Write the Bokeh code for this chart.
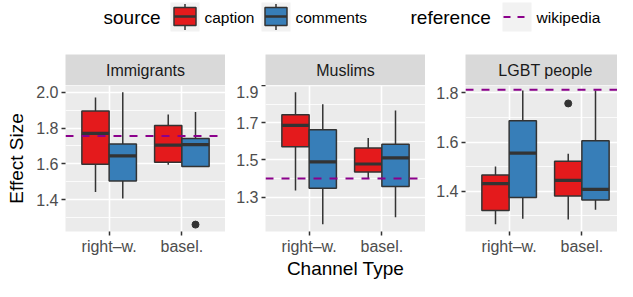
import pandas as pd
from bokeh.plotting import figure
from bokeh.layouts import column, row
from bokeh.models import Range1d, FixedTicker, PrintfTickFormatter, ColumnDataSource, Span
from bokeh.core.properties import value
from bokeh.embed import file_html
from bokeh.resources import INLINE

# ---------------- data ----------------
panels = ["Immigrants", "Muslims", "LGBT people"]
channels = ["right\u2013w.", "basel."]
sources = ["caption", "comments"]
source_colors = ["#E41A1C", "#377EB8"]

# order per panel: (right-w., caption), (right-w., comments), (basel., caption), (basel., comments)
box_panel = ["Immigrants"] * 4 + ["Muslims"] * 4 + ["LGBT people"] * 4
box_channel = ["right\u2013w.", "right\u2013w.", "basel.", "basel."] * 3
box_source = ["caption", "comments"] * 6
whisker_low = [1.443, 1.407, 1.595, 1.586,
               1.335, 1.153, 1.400, 1.191,
               1.266, 1.288, 1.285, 1.324]
q1 = [1.598, 1.505, 1.609, 1.586,
      1.571, 1.347, 1.435, 1.357,
      1.321, 1.374, 1.380, 1.364]
median = [1.770, 1.645, 1.705, 1.707,
          1.687, 1.490, 1.478, 1.511,
          1.431, 1.555, 1.444, 1.407]
q3 = [1.895, 1.711, 1.814, 1.741,
      1.744, 1.663, 1.565, 1.584,
      1.466, 1.687, 1.522, 1.605]
whisker_high = [1.970, 2.000, 1.875, 1.889,
                1.865, 1.801, 1.618, 1.767,
                1.500, 1.810, 1.552, 1.810]

outlier_panel = ["Immigrants", "LGBT people"]
outlier_channel = ["basel.", "basel."]
outlier_source = ["comments", "caption"]
outlier_value = [1.261, 1.757]

reference_value = [1.755, 1.400, 1.813]  # wikipedia

y_major = [[1.4, 1.6, 1.8, 2.0], [1.3, 1.5, 1.7, 1.9], [1.4, 1.6, 1.8]]
y_minor = [[1.3, 1.5, 1.7, 1.9], [1.2, 1.4, 1.6, 1.8], [1.3, 1.5, 1.7]]
y_limits = [(1.2225, 2.0375), (1.114, 1.9016), (1.236, 1.830)]

# ---------------- layout constants ----------------
FONT = value("Liberation Sans")
DARK = "#333333"
DODGE = 0.375
left_borders = [65, 40, 40]
frame_widths = [160, 160, 152]
X0, X1 = 0.4, 2.6
x_ends = [X1, X1, X0 + 152 / (160 / (X1 - X0))]
LEGEND_H = 54
STRIP_H = 31
FRAME_H = 148
BOTTOM = 48
TOTAL_W = sum(left_borders) + sum(frame_widths)

df = pd.DataFrame(dict(panel=box_panel, channel=box_channel, source=box_source,
                       low=whisker_low, q1=q1, med=median, q3=q3, high=whisker_high))
df["x"] = df["channel"].map({c: i + 1 for i, c in enumerate(channels)}) + \
    df["source"].map({"caption": -DODGE / 2, "comments": DODGE / 2})
df["left"] = df["x"] - DODGE / 2
df["right"] = df["x"] + DODGE / 2
df["color"] = df["source"].map(dict(zip(sources, source_colors)))

odf = pd.DataFrame(dict(panel=outlier_panel, channel=outlier_channel,
                        source=outlier_source, y=outlier_value))
odf["x"] = odf["channel"].map({c: i + 1 for i, c in enumerate(channels)}) + \
    odf["source"].map({"caption": -DODGE / 2, "comments": DODGE / 2})


def make_strip(i):
    s = figure(width=left_borders[i] + frame_widths[i], height=STRIP_H,
               x_range=Range1d(X0, x_ends[i]), y_range=Range1d(0, 1),
               min_border_left=left_borders[i], min_border_right=0,
               min_border_top=0, min_border_bottom=0,
               background_fill_color="#D9D9D9", outline_line_color=None,
               x_axis_location=None, y_axis_location=None, title=None,
               output_backend="svg", toolbar_location=None)
    s.grid.visible = False
    s.text(x=[(X0 + X1) / 2], y=[0.5], text=[panels[i]], text_align="center",
           text_baseline="middle", text_font=FONT, text_font_size="16px",
           text_color="#1A1A1A")
    return s


def make_panel(i):
    p = figure(width=left_borders[i] + frame_widths[i], height=FRAME_H + BOTTOM,
               x_range=Range1d(X0, x_ends[i]), y_range=Range1d(*y_limits[i]),
               min_border_left=left_borders[i], min_border_right=0,
               min_border_top=0, min_border_bottom=BOTTOM,
               background_fill_color="#EBEBEB", outline_line_color=None,
               title=None, output_backend="svg", toolbar_location=None)
    sub = df[df["panel"] == panels[i]]
    src = ColumnDataSource(sub)
    p.segment(x0="x", y0="q3", x1="x", y1="high", source=src, line_color=DARK, line_width=1.5)
    p.segment(x0="x", y0="low", x1="x", y1="q1", source=src, line_color=DARK, line_width=1.5)
    p.quad(left="left", right="right", bottom="q1", top="q3", source=src,
           fill_color="color", line_color=DARK, line_width=1.5)
    p.segment(x0="left", y0="med", x1="right", y1="med", source=src,
              line_color=DARK, line_width=3.2)
    osub = odf[odf["panel"] == panels[i]]
    if len(osub):
        p.scatter(x="x", y="y", source=ColumnDataSource(osub), size=7,
                  fill_color=DARK, line_color=DARK)
    p.add_layout(Span(location=reference_value[i], dimension="width",
                      line_color="#8B008B", line_dash="8 8", line_width=2))

    # axes
    p.xaxis.ticker = FixedTicker(ticks=[1, 2])
    p.xaxis.major_label_overrides = {1: channels[0], 2: channels[1]}
    p.yaxis.ticker = FixedTicker(ticks=y_major[i], minor_ticks=y_minor[i])
    p.yaxis.formatter = PrintfTickFormatter(format="%.1f")
    for ax in (p.xaxis, p.yaxis):
        ax.axis_line_color = None
        ax.major_tick_line_color = DARK
        ax.major_tick_line_width = 1.5
        ax.major_tick_out = 4
        ax.major_tick_in = 0
        ax.minor_tick_out = 0
        ax.minor_tick_in = 0
        ax.major_label_text_font = "Liberation Sans"
        ax.major_label_text_font_size = "16px"
        ax.major_label_text_color = "#4D4D4D"
        ax.major_label_standoff = 3
        ax.axis_label_text_font = "Liberation Sans"
        ax.axis_label_text_font_size = "19px"
        ax.axis_label_text_font_style = "normal"
        ax.axis_label_text_color = "black"
    p.xaxis.major_label_standoff = 2
    p.xaxis.axis_label_standoff = 0
    # every panel carries an x-axis title slot so that all frames line up
    p.xaxis.axis_label = "Channel Type" if i == 1 else "\u00a0"
    p.xgrid.grid_line_color = "white"
    p.xgrid.grid_line_width = 1.6
    p.ygrid.grid_line_color = "white"
    p.ygrid.grid_line_width = 1.6
    p.ygrid.minor_grid_line_color = "white"
    p.ygrid.minor_grid_line_width = 0.8
    if i == 0:
        p.yaxis.axis_label = "Effect Size"
        p.yaxis.axis_label_standoff = 6
    return p


# ---------------- legend ----------------
leg = figure(width=TOTAL_W, height=LEGEND_H,
             x_range=Range1d(0, TOTAL_W), y_range=Range1d(LEGEND_H, 0),
             min_border_left=0, min_border_right=0, min_border_top=0, min_border_bottom=0,
             x_axis_location=None, y_axis_location=None, title=None,
             outline_line_color=None, output_backend="svg", toolbar_location=None)
leg.grid.visible = False
key_top, key_bot = 2, 31
ymid = (key_top + key_bot) / 2
key_left = [170, 261]
for kl, col in zip(key_left, source_colors):
    leg.quad(left=[kl], right=[kl + 29], top=[key_top], bottom=[key_bot],
             fill_color="#F2F2F2", line_color=None)
    leg.segment(x0=[kl + 14.5], y0=[key_top + 1.5], x1=[kl + 14.5], y1=[key_bot - 1.5],
                line_color=DARK, line_width=1.5)
    leg.quad(left=[kl + 3.5], right=[kl + 25.5], top=[key_top + 5], bottom=[key_bot - 6],
             fill_color=col, line_color=DARK, line_width=1.5)
    leg.segment(x0=[kl + 3.5], y0=[ymid - 0.5], x1=[kl + 25.5], y1=[ymid - 0.5],
                line_color=DARK, line_width=2.5)
leg.quad(left=[502], right=[531], top=[key_top], bottom=[key_bot],
         fill_color="#F2F2F2", line_color=None)
leg.segment(x0=[503], y0=[ymid], x1=[531], y1=[ymid],
            line_color="#8B008B", line_width=2, line_dash="7 7")
leg.text(x=[103, 410], y=[ymid, ymid], text=["source", "reference"], text_font=FONT,
         text_font_size="19px", text_baseline="middle", text_align="left", text_color="black")
leg.text(x=[204, 295, 536], y=[ymid] * 3, text=["caption", "comments", "wikipedia"],
         text_font=FONT, text_font_size="15.5px", text_baseline="middle",
         text_align="left", text_color="black")

cols = [column(make_strip(i), make_panel(i)) for i in range(3)]
p = column(leg, row(*cols))

open("out.html", "w").write(file_html(p, INLINE))
